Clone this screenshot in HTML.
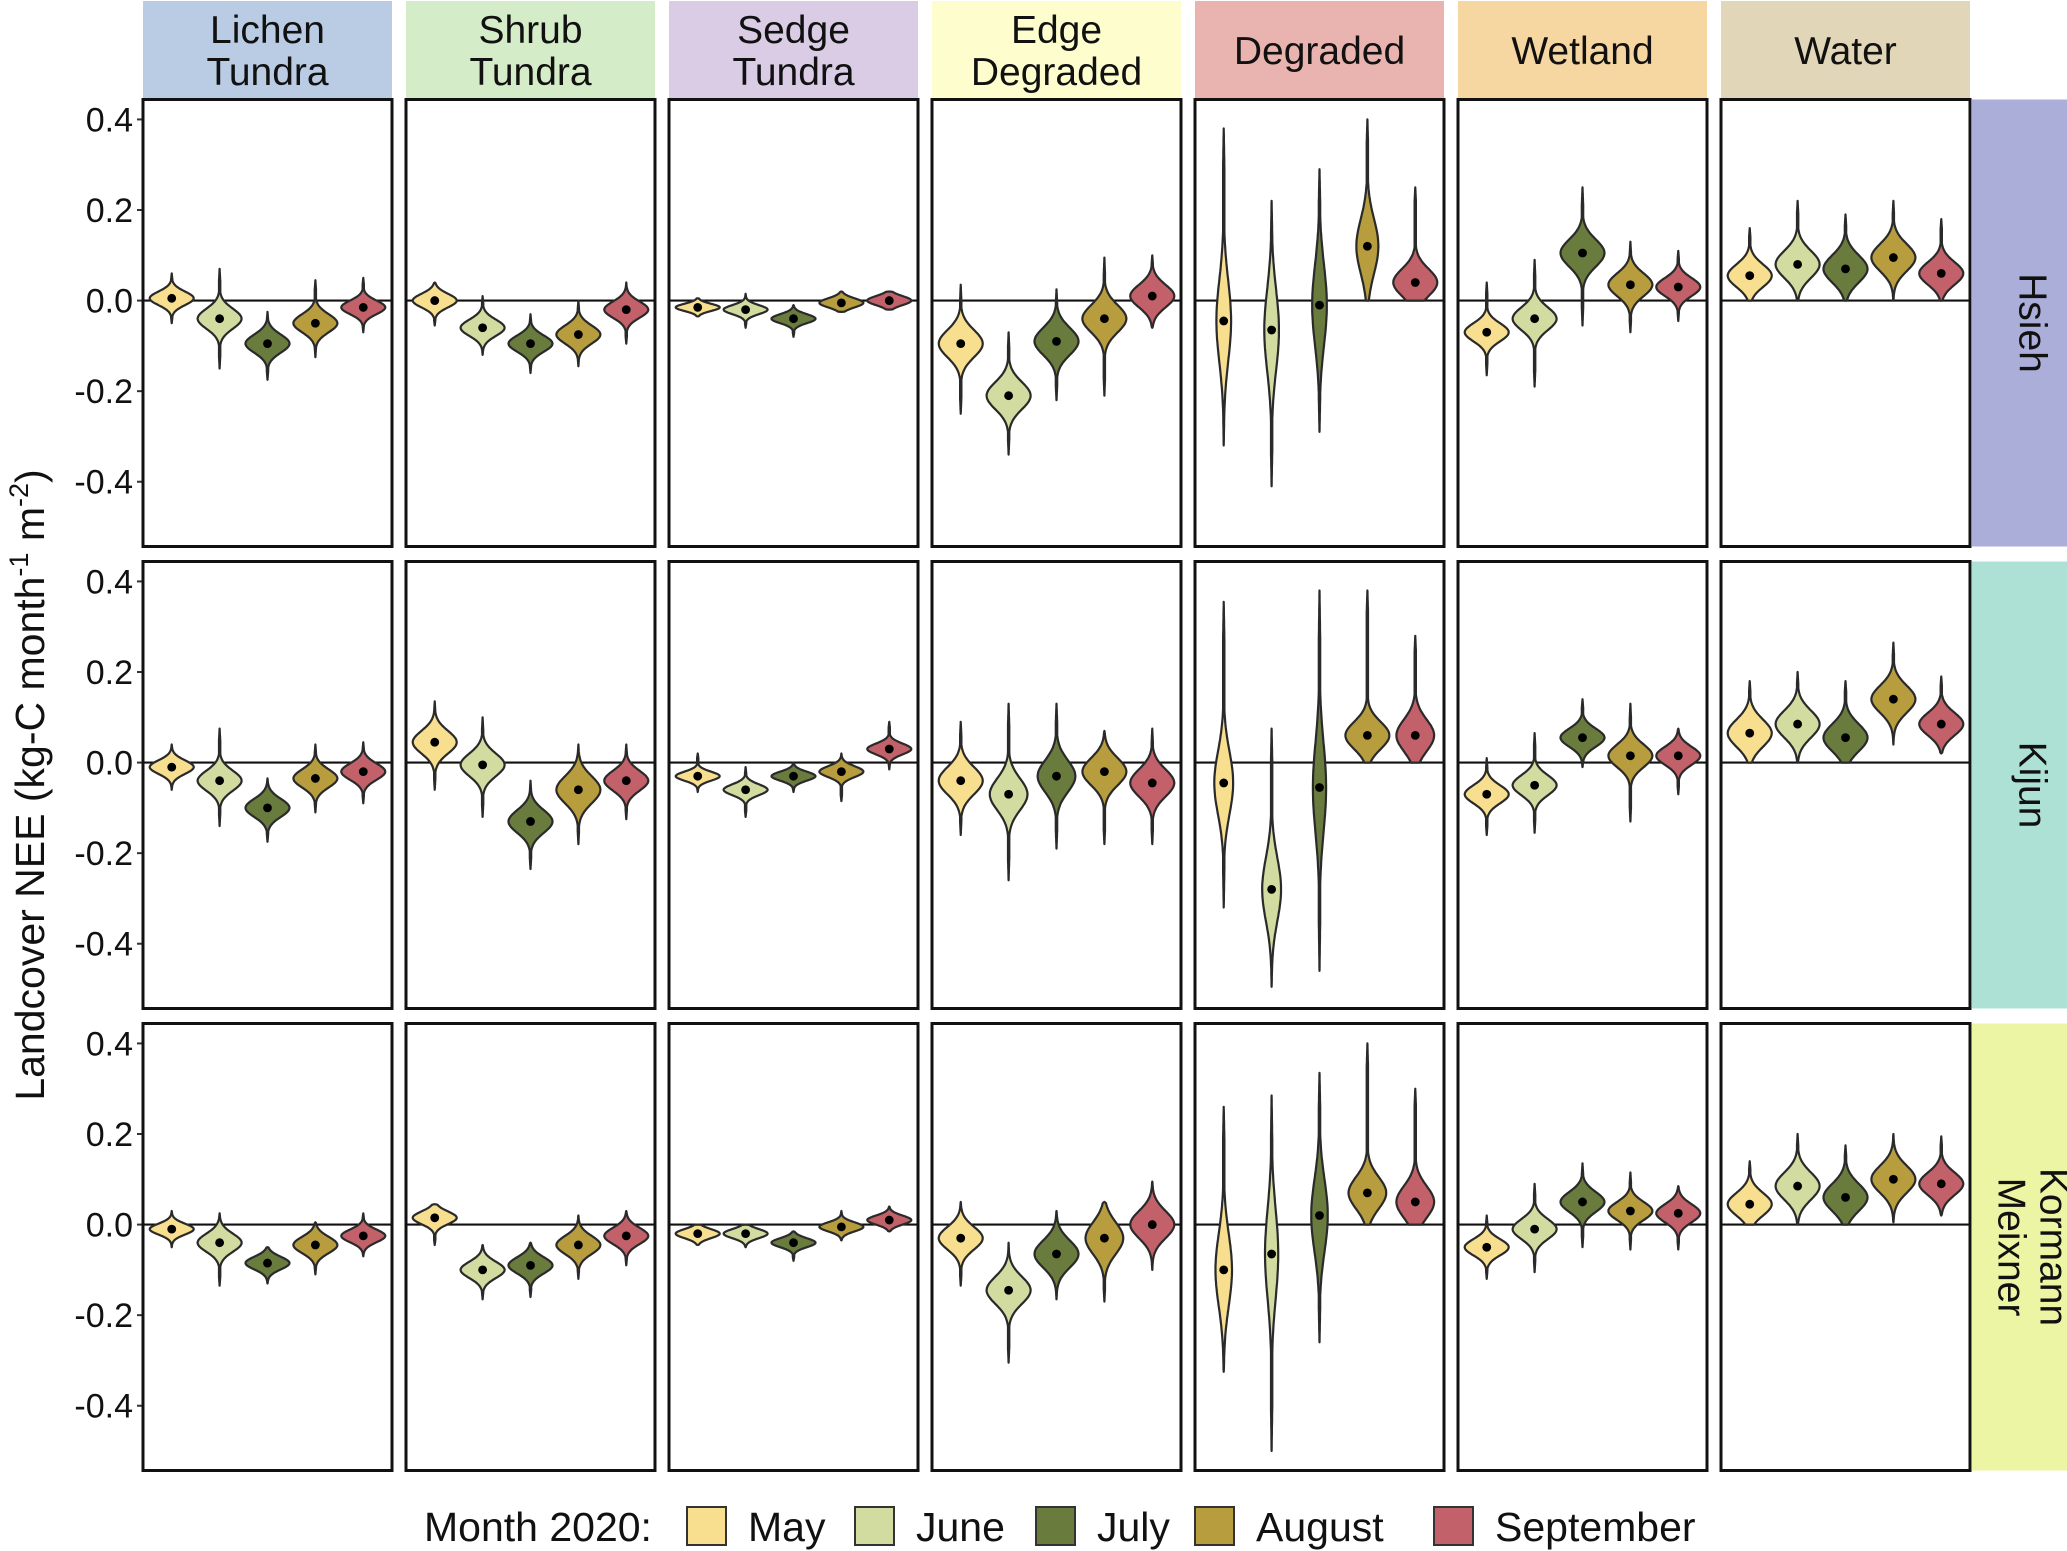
<!DOCTYPE html>
<html><head><meta charset="utf-8">
<style>
html,body{margin:0;padding:0;background:#fff;}
svg{display:block;font-family:"Liberation Sans",Arial,sans-serif;}
</style></head>
<body>
<svg id="chart" width="2067" height="1551" viewBox="0 0 2067 1551" xmlns="http://www.w3.org/2000/svg"></svg>
<script>
const landcovers = ["Lichen\nTundra","Shrub\nTundra","Sedge\nTundra","Edge\nDegraded","Degraded","Wetland","Water"];
const models = ["Hsieh","Kijun","Kormann\nMeixner"];
const months = ["May","June","July","August","September"];
const yTicks = [0.4,0.2,0.0,-0.2,-0.4];
const yTickLabels = ["0.4","0.2","0.0","-0.2","-0.4"];
// medians [model][landcover][month]
const medians = [
 [[0.005,-0.04,-0.095,-0.05,-0.015],[0,-0.06,-0.095,-0.075,-0.02],[-0.015,-0.02,-0.04,-0.005,0],[-0.095,-0.21,-0.09,-0.04,0.01],[-0.045,-0.065,-0.01,0.12,0.04],[-0.07,-0.04,0.105,0.035,0.03],[0.055,0.08,0.07,0.095,0.06]],
 [[-0.01,-0.04,-0.1,-0.035,-0.02],[0.045,-0.005,-0.13,-0.06,-0.04],[-0.03,-0.06,-0.03,-0.02,0.03],[-0.04,-0.07,-0.03,-0.02,-0.045],[-0.045,-0.28,-0.055,0.06,0.06],[-0.07,-0.05,0.055,0.015,0.015],[0.065,0.085,0.055,0.14,0.085]],
 [[-0.01,-0.04,-0.085,-0.045,-0.025],[0.015,-0.1,-0.09,-0.045,-0.025],[-0.02,-0.02,-0.04,-0.005,0.01],[-0.03,-0.145,-0.065,-0.03,0],[-0.1,-0.065,0.02,0.07,0.05],[-0.05,-0.01,0.05,0.03,0.025],[0.045,0.085,0.06,0.1,0.09]]
];
const mins = [
 [[-0.05,-0.15,-0.175,-0.125,-0.07],[-0.055,-0.12,-0.16,-0.145,-0.095],[-0.035,-0.06,-0.08,-0.025,-0.02],[-0.25,-0.34,-0.22,-0.21,-0.06],[-0.32,-0.41,-0.29,0,0],[-0.165,-0.19,-0.055,-0.07,-0.045],[0,0,0,0,0]],
 [[-0.06,-0.14,-0.175,-0.11,-0.09],[-0.06,-0.12,-0.235,-0.18,-0.125],[-0.065,-0.12,-0.065,-0.085,-0.015],[-0.16,-0.26,-0.19,-0.18,-0.18],[-0.32,-0.495,-0.46,0,0],[-0.16,-0.155,-0.01,-0.13,-0.07],[0,0,0,0.04,0.02]],
 [[-0.05,-0.135,-0.13,-0.11,-0.07],[-0.045,-0.165,-0.16,-0.12,-0.09],[-0.045,-0.05,-0.08,-0.035,-0.015],[-0.135,-0.305,-0.165,-0.17,-0.1],[-0.325,-0.5,-0.26,0,0],[-0.12,-0.105,-0.05,-0.055,-0.055],[0,0,0,0.005,0.02]]
];
const maxs = [
 [[0.06,0.07,-0.025,0.045,0.05],[0.04,0.01,-0.03,0,0.04],[0.005,0.015,-0.01,0.02,0.02],[0.035,-0.07,0.025,0.095,0.1],[0.38,0.22,0.29,0.4,0.25],[0.04,0.09,0.25,0.13,0.11],[0.16,0.22,0.19,0.22,0.18]],
 [[0.04,0.075,-0.035,0.04,0.045],[0.135,0.1,-0.04,0.04,0.04],[0.02,-0.01,0,0.02,0.09],[0.09,0.13,0.13,0.07,0.075],[0.355,0.075,0.38,0.38,0.28],[0.01,0.065,0.14,0.13,0.075],[0.18,0.2,0.18,0.265,0.19]],
 [[0.03,0.025,-0.05,0.005,0.025],[0.045,-0.045,-0.04,0.02,0.03],[0,0,-0.015,0.03,0.04],[0.05,-0.04,0.03,0.05,0.095],[0.26,0.285,0.335,0.4,0.3],[0.02,0.09,0.135,0.115,0.085],[0.14,0.2,0.175,0.2,0.195]]
];
const spreads = [
 [[0.015,0.022,0.02,0.02,0.015],[0.015,0.018,0.018,0.02,0.018],[0.008,0.01,0.01,0.01,0.01],[0.03,0.03,0.03,0.03,0.025],[0.09,0.09,0.09,0.06,0.03],[0.02,0.025,0.03,0.025,0.02],[0.025,0.03,0.03,0.03,0.025]],
 [[0.015,0.022,0.02,0.02,0.018],[0.025,0.025,0.025,0.03,0.022],[0.01,0.012,0.01,0.012,0.012],[0.03,0.035,0.035,0.03,0.03],[0.07,0.07,0.1,0.03,0.035],[0.02,0.022,0.02,0.025,0.02],[0.03,0.03,0.03,0.03,0.025]],
 [[0.012,0.02,0.014,0.018,0.014],[0.014,0.018,0.018,0.02,0.018],[0.01,0.01,0.01,0.01,0.01],[0.025,0.03,0.03,0.035,0.03],[0.08,0.1,0.08,0.035,0.035],[0.018,0.022,0.022,0.02,0.02],[0.025,0.03,0.03,0.03,0.025]]
];
const monthColors = ["#f8df8f","#d3dca0","#6a7b3e","#b89d3f","#c2616a"];
const stripColors = ["#b9cce4","#d5ecc9","#d9cce4","#fdfdcd","#e9b4af","#f6d7a1","#e1d6b7"];
const rowStripColors = ["#abaed9","#aee1d6","#ebf5a3"];

const NS="http://www.w3.org/2000/svg";
const svg=document.getElementById('chart');
function mk(tag,attrs,parent){const e=document.createElementNS(NS,tag);for(const k in attrs)e.setAttribute(k,attrs[k]);(parent||svg).appendChild(e);return e;}

const PX0=143, PW=249, PSTEP=263, PY0=99.5, PH=447, RSTEP=462;
const YMIN=-0.543, YMAX=0.444;
function yScale(r,v){return PY0+r*RSTEP+(YMAX-v)/(YMAX-YMIN)*PH;}
function xCenter(c,i){const step=PW/(months.length+0.2);return PX0+c*PSTEP+step*(0.6+i);}

// column strips
landcovers.forEach((lc,c)=>{
  const g=mk('g',{});
  
  
  mk('rect',{x:PX0+c*PSTEP,y:1,width:PW,height:97,fill:stripColors[c]},g);
  const lines=lc.split('\n');
  lines.forEach((t,k)=>{
    const tx=mk('text',{x:PX0+c*PSTEP+PW/2,y:(lines.length===1?64:43+k*42),'font-size':39,'text-anchor':'middle',fill:'#111'},g);
    tx.textContent=t;
  });
});
// row strips
models.forEach((m,r)=>{
  const g=mk('g',{});
  
  
  const x0=PX0+6*PSTEP+PW+2;
  mk('rect',{x:x0,y:PY0+r*RSTEP,width:2067-x0,height:PH,fill:rowStripColors[r]},g);
  const lines=m.split('\n');
  const cy=PY0+r*RSTEP+PH/2, cx=x0+(2067-x0)/2;
  lines.forEach((t,k)=>{
    const off=lines.length===1?13:(k===0?-8:34);
    const tx=mk('text',{x:0,y:0,'font-size':39,'text-anchor':'middle',fill:'#111',transform:`translate(${cx-off+13},${cy}) rotate(90)`},g);
    tx.textContent=t;
  });
});

// panels
models.forEach((m,r)=>{
  const ax=mk('g',{});
  
  
  yTicks.forEach((v,k)=>{
    const y=yScale(r,v);
    mk('line',{x1:PX0-6,x2:PX0,y1:y,y2:y,stroke:'#333','stroke-width':2},ax);
    const t=mk('text',{x:PX0-10,y:y+12,'font-size':34,'text-anchor':'end',fill:'#111'},ax);
    t.textContent=yTickLabels[k];
  });
  landcovers.forEach((lc,c)=>{
    const g=mk('g',{});
    
    
    const x0=PX0+c*PSTEP, y0=PY0+r*RSTEP;
    mk('rect',{x:x0,y:y0,width:PW,height:PH,fill:'#fff'},g);
    const zy=yScale(r,0);
    mk('line',{x1:x0,x2:x0+PW,y1:zy,y2:zy,stroke:'#111','stroke-width':2.2},g);
    months.forEach((mo,i)=>{
      const med=medians[r][c][i], lo=mins[r][c][i], hi=maxs[r][c][i], sd=spreads[r][c][i];
      const cx=xCenter(c,i);
      const hwMax=22*Math.min(1,0.03/sd);
      const N=80, right=[], left=[];
      for(let k=0;k<=N;k++){
        const v=lo+(hi-lo)*k/N;
        let d=Math.exp(-0.5*Math.pow((v-med)/sd,2));
        const edge=Math.min(v-lo,hi-v)/(hi-lo);
        const tail=0.06*Math.min(1,edge*8);
        d=Math.max(d,tail*(22/hwMax)*0.5);
        if(k===0||k===N) d=Math.max(d*(lo===0&&k===0?1:0.05),0.0);
        const w=Math.min(hwMax*d,hwMax);
        const y=yScale(r,v);
        right.push([cx+w,y]);left.push([cx-w,y]);
      }
      const pts=right.concat(left.reverse()).map(p=>p[0].toFixed(1)+','+p[1].toFixed(1)).join(' ');
      const vio=mk('polygon',{points:pts,fill:monthColors[i],stroke:'#2a2a2a','stroke-width':2.2,'stroke-linejoin':'round'},g);
      
      
      const dot=mk('circle',{cx:cx,cy:yScale(r,med),r:4.4,fill:'#000'},g);
      
      
    });
    mk('rect',{x:x0,y:y0,width:PW,height:PH,fill:'none',stroke:'#111','stroke-width':3},g);
  });
});

// y axis title
const yt=mk('text',{x:0,y:0,'font-size':41,'text-anchor':'middle',fill:'#111',transform:'translate(44,785) rotate(-90)'});


yt.innerHTML='Landcover NEE (kg-C month<tspan dy="-16" font-size="27">-1</tspan><tspan dy="16"> m</tspan><tspan dy="-16" font-size="27">-2</tspan><tspan dy="16">)</tspan>';

// legend
const lg=mk('g',{});


const lt=mk('text',{x:424,y:1541,'font-size':41,fill:'#111'},lg);
lt.textContent='Month 2020:';
const keyX=[687,855,1036,1195,1434];
months.forEach((mo,i)=>{
  const e=mk('g',{},lg);
  
  
  mk('rect',{x:keyX[i],y:1507,width:39,height:38,fill:monthColors[i],stroke:'#333','stroke-width':2},e);
  const t=mk('text',{x:keyX[i]+61,y:1541,'font-size':41,fill:'#111'},e);
  t.textContent=mo;
});
</script>
</body></html>
